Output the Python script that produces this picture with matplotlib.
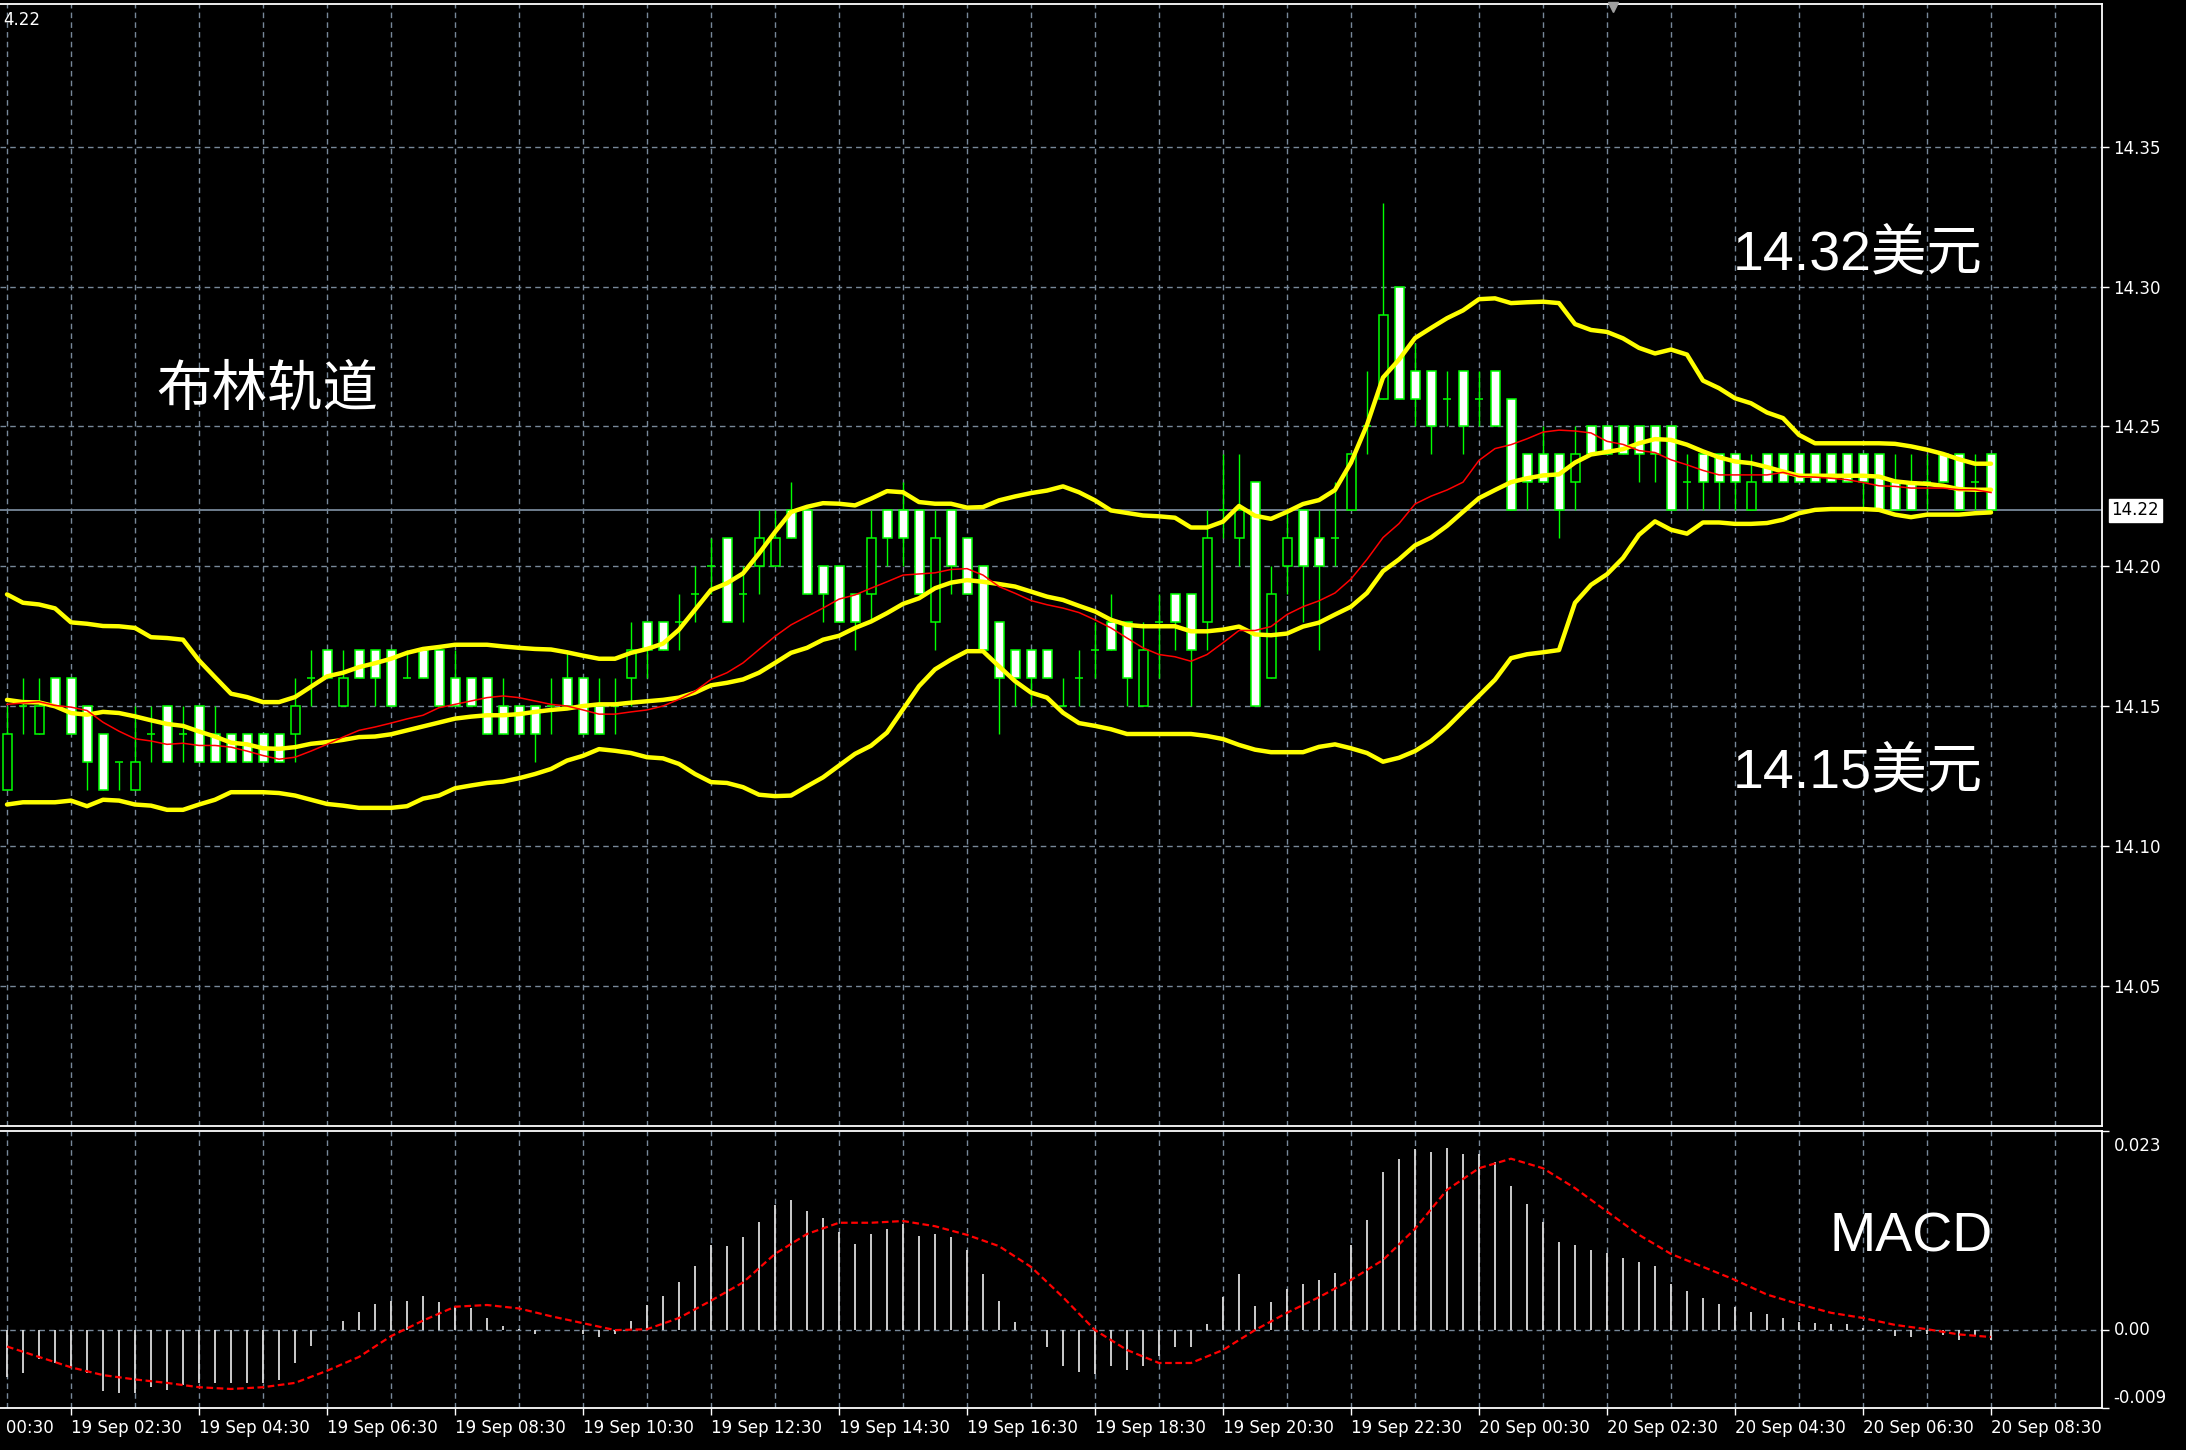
import numpy as np
import matplotlib
matplotlib.use("Agg")
import matplotlib.pyplot as plt
from matplotlib.transforms import blended_transform_factory

# ---------------- data ----------------
time_labels = ["19 Sep 00:30", "19 Sep 02:30", "19 Sep 04:30", "19 Sep 06:30", "19 Sep 08:30",
               "19 Sep 10:30", "19 Sep 12:30", "19 Sep 14:30", "19 Sep 16:30", "19 Sep 18:30",
               "19 Sep 20:30", "19 Sep 22:30", "20 Sep 00:30", "20 Sep 02:30", "20 Sep 04:30",
               "20 Sep 06:30", "20 Sep 08:30"]

opens = [14.12, 14.15, 14.14, 14.16, 14.16, 14.15, 14.14, 14.13, 14.12, 14.14,
         14.15, 14.14, 14.15, 14.14, 14.14, 14.14, 14.14, 14.14, 14.14, 14.16,
         14.17, 14.15, 14.17, 14.17, 14.17, 14.16, 14.17, 14.17, 14.16, 14.16,
         14.16, 14.15, 14.15, 14.15, 14.15, 14.16, 14.16, 14.15, 14.15, 14.16,
         14.18, 14.18, 14.18, 14.19, 14.20, 14.21, 14.19, 14.20, 14.20, 14.22,
         14.22, 14.20, 14.20, 14.19, 14.19, 14.22, 14.22, 14.22, 14.18, 14.22,
         14.21, 14.20, 14.18, 14.17, 14.17, 14.17, 14.15, 14.16, 14.17, 14.18,
         14.18, 14.15, 14.18, 14.19, 14.19, 14.18, 14.22, 14.21, 14.23, 14.16,
         14.20, 14.22, 14.21, 14.21, 14.22, 14.25, 14.26, 14.30, 14.27, 14.27,
         14.26, 14.27, 14.26, 14.27, 14.26, 14.24, 14.24, 14.24, 14.23, 14.25,
         14.25, 14.25, 14.25, 14.25, 14.25, 14.23, 14.24, 14.24, 14.24, 14.22,
         14.24, 14.24, 14.24, 14.24, 14.24, 14.24, 14.24, 14.24, 14.23, 14.23,
         14.23, 14.24, 14.24, 14.23, 14.24]
highs = [14.15, 14.16, 14.16, 14.16, 14.16, 14.15, 14.14, 14.13, 14.15, 14.15,
         14.15, 14.15, 14.15, 14.15, 14.14, 14.14, 14.14, 14.14, 14.16, 14.17,
         14.17, 14.17, 14.17, 14.17, 14.17, 14.17, 14.17, 14.17, 14.17, 14.16,
         14.16, 14.16, 14.15, 14.15, 14.16, 14.17, 14.16, 14.16, 14.16, 14.18,
         14.18, 14.18, 14.19, 14.20, 14.21, 14.21, 14.20, 14.22, 14.22, 14.23,
         14.22, 14.20, 14.20, 14.19, 14.22, 14.22, 14.23, 14.22, 14.22, 14.22,
         14.21, 14.20, 14.18, 14.17, 14.17, 14.17, 14.16, 14.17, 14.18, 14.19,
         14.18, 14.18, 14.19, 14.19, 14.19, 14.22, 14.24, 14.24, 14.23, 14.20,
         14.22, 14.22, 14.22, 14.23, 14.24, 14.27, 14.33, 14.30, 14.28, 14.27,
         14.27, 14.27, 14.27, 14.27, 14.26, 14.24, 14.25, 14.24, 14.25, 14.25,
         14.25, 14.25, 14.25, 14.25, 14.25, 14.24, 14.24, 14.24, 14.24, 14.24,
         14.24, 14.24, 14.24, 14.24, 14.24, 14.24, 14.24, 14.24, 14.24, 14.24,
         14.24, 14.24, 14.24, 14.24, 14.24]
lows = [14.12, 14.14, 14.14, 14.15, 14.14, 14.12, 14.12, 14.12, 14.12, 14.13,
        14.13, 14.13, 14.13, 14.13, 14.13, 14.13, 14.13, 14.13, 14.13, 14.15,
        14.16, 14.15, 14.16, 14.15, 14.15, 14.16, 14.16, 14.15, 14.15, 14.15,
        14.14, 14.14, 14.14, 14.13, 14.14, 14.15, 14.14, 14.14, 14.14, 14.15,
        14.16, 14.17, 14.17, 14.18, 14.19, 14.18, 14.18, 14.19, 14.20, 14.21,
        14.19, 14.18, 14.18, 14.17, 14.18, 14.20, 14.20, 14.19, 14.17, 14.19,
        14.19, 14.17, 14.14, 14.15, 14.15, 14.16, 14.15, 14.15, 14.16, 14.17,
        14.15, 14.15, 14.16, 14.17, 14.15, 14.17, 14.21, 14.20, 14.15, 14.16,
        14.19, 14.18, 14.17, 14.20, 14.22, 14.24, 14.26, 14.26, 14.25, 14.24,
        14.25, 14.24, 14.25, 14.25, 14.22, 14.22, 14.23, 14.21, 14.22, 14.24,
        14.24, 14.24, 14.23, 14.23, 14.22, 14.22, 14.22, 14.22, 14.22, 14.22,
        14.23, 14.23, 14.23, 14.23, 14.23, 14.23, 14.22, 14.22, 14.22, 14.22,
        14.22, 14.23, 14.22, 14.22, 14.22]
closes = [14.14, 14.15, 14.15, 14.15, 14.14, 14.13, 14.12, 14.13, 14.13, 14.14,
          14.13, 14.14, 14.13, 14.13, 14.13, 14.13, 14.13, 14.13, 14.15, 14.16,
          14.16, 14.16, 14.16, 14.16, 14.15, 14.16, 14.16, 14.15, 14.15, 14.15,
          14.14, 14.14, 14.14, 14.14, 14.15, 14.15, 14.14, 14.14, 14.15, 14.17,
          14.17, 14.17, 14.18, 14.19, 14.20, 14.18, 14.19, 14.21, 14.21, 14.21,
          14.19, 14.19, 14.18, 14.18, 14.21, 14.21, 14.21, 14.19, 14.21, 14.20,
          14.19, 14.17, 14.16, 14.16, 14.16, 14.16, 14.15, 14.16, 14.17, 14.17,
          14.16, 14.17, 14.18, 14.18, 14.17, 14.21, 14.22, 14.22, 14.15, 14.19,
          14.21, 14.20, 14.20, 14.21, 14.24, 14.25, 14.29, 14.26, 14.26, 14.25,
          14.26, 14.25, 14.26, 14.25, 14.22, 14.23, 14.23, 14.22, 14.24, 14.24,
          14.24, 14.24, 14.24, 14.24, 14.22, 14.23, 14.23, 14.23, 14.23, 14.23,
          14.23, 14.23, 14.23, 14.23, 14.23, 14.23, 14.23, 14.22, 14.22, 14.22,
          14.23, 14.23, 14.22, 14.23, 14.22]

bb_upper = [14.1900, 14.1870, 14.1864, 14.1850, 14.1800, 14.1795, 14.1787, 14.1786, 14.1780, 14.1747,
            14.1744, 14.1738, 14.1664, 14.1604, 14.1545, 14.1533, 14.1515, 14.1515, 14.1533, 14.1570,
            14.1607, 14.1620, 14.1640, 14.1654, 14.1670, 14.1691, 14.1705, 14.1712, 14.1720, 14.1720,
            14.1720, 14.1714, 14.1709, 14.1705, 14.1703, 14.1693, 14.1681, 14.1670, 14.1670, 14.1691,
            14.1705, 14.1724, 14.1774, 14.1845, 14.1916, 14.1940, 14.1975, 14.2046, 14.2123, 14.2194,
            14.2213, 14.2226, 14.2224, 14.2218, 14.2242, 14.2269, 14.2265, 14.2230, 14.2224, 14.2224,
            14.2210, 14.2212, 14.2236, 14.2250, 14.2262, 14.2271, 14.2286, 14.2265, 14.2236, 14.2200,
            14.2191, 14.2182, 14.2179, 14.2174, 14.2139, 14.2139, 14.2160, 14.2216, 14.2181, 14.2170,
            14.2195, 14.2223, 14.2237, 14.2273, 14.2371, 14.2506, 14.2675, 14.2739, 14.2816, 14.2852,
            14.2887, 14.2915, 14.2955, 14.2958, 14.2941, 14.2944, 14.2946, 14.2941, 14.2866, 14.2845,
            14.2838, 14.2815, 14.2781, 14.2761, 14.2775, 14.2757, 14.2664, 14.2637, 14.2601, 14.2583,
            14.2550, 14.2530, 14.2470, 14.2440, 14.2440, 14.2440, 14.2440, 14.2440, 14.2438, 14.2429,
            14.2417, 14.2402, 14.2383, 14.2367, 14.2367]
bb_middle = [14.1523, 14.1515, 14.1514, 14.1500, 14.1476, 14.1470, 14.1480, 14.1476, 14.1464, 14.1450,
             14.1437, 14.1430, 14.1410, 14.1392, 14.1370, 14.1364, 14.1350, 14.1348, 14.1354, 14.1366,
             14.1372, 14.1380, 14.1390, 14.1392, 14.1400, 14.1414, 14.1428, 14.1442, 14.1456, 14.1463,
             14.1468, 14.1468, 14.1472, 14.1480, 14.1487, 14.1492, 14.1501, 14.1507, 14.1507, 14.1513,
             14.1518, 14.1523, 14.1531, 14.1549, 14.1575, 14.1584, 14.1596, 14.1620, 14.1655, 14.1691,
             14.1709, 14.1738, 14.1752, 14.1780, 14.1803, 14.1833, 14.1866, 14.1886, 14.1922, 14.1942,
             14.1951, 14.1945, 14.1937, 14.1928, 14.1910, 14.1892, 14.1880, 14.1859, 14.1839, 14.1809,
             14.1791, 14.1786, 14.1786, 14.1786, 14.1768, 14.1768, 14.1774, 14.1785, 14.1757, 14.1754,
             14.1760, 14.1785, 14.1799, 14.1828, 14.1856, 14.1905, 14.1983, 14.2025, 14.2075, 14.2103,
             14.2145, 14.2195, 14.2244, 14.2273, 14.2301, 14.2315, 14.2325, 14.2329, 14.2371, 14.2400,
             14.2409, 14.2419, 14.2440, 14.2455, 14.2452, 14.2435, 14.2411, 14.2390, 14.2375, 14.2369,
             14.2355, 14.2339, 14.2324, 14.2324, 14.2324, 14.2324, 14.2324, 14.2321, 14.2304, 14.2298,
             14.2295, 14.2288, 14.2276, 14.2274, 14.2274]
bb_lower = [14.1149, 14.1157, 14.1157, 14.1157, 14.1163, 14.1143, 14.1166, 14.1163, 14.1149, 14.1145,
            14.1130, 14.1130, 14.1149, 14.1166, 14.1193, 14.1193, 14.1193, 14.1190, 14.1181, 14.1166,
            14.1151, 14.1145, 14.1137, 14.1137, 14.1137, 14.1143, 14.1170, 14.1181, 14.1207, 14.1217,
            14.1226, 14.1231, 14.1243, 14.1258, 14.1276, 14.1306, 14.1323, 14.1347, 14.1341, 14.1333,
            14.1318, 14.1314, 14.1294, 14.1258, 14.1229, 14.1226, 14.1211, 14.1184, 14.1179, 14.1181,
            14.1214, 14.1246, 14.1288, 14.1330, 14.1359, 14.1406, 14.1489, 14.1572, 14.1632, 14.1667,
            14.1697, 14.1697, 14.1643, 14.1590, 14.1549, 14.1531, 14.1477, 14.1440, 14.1430, 14.1418,
            14.1401, 14.1401, 14.1401, 14.1401, 14.1401, 14.1394, 14.1383, 14.1362, 14.1345, 14.1336,
            14.1336, 14.1336, 14.1355, 14.1364, 14.1350, 14.1333, 14.1302, 14.1316, 14.1340, 14.1376,
            14.1425, 14.1482, 14.1538, 14.1595, 14.1672, 14.1686, 14.1693, 14.1701, 14.1870, 14.1934,
            14.1972, 14.2030, 14.2113, 14.2161, 14.2131, 14.2117, 14.2157, 14.2157, 14.2152, 14.2152,
            14.2155, 14.2167, 14.2190, 14.2202, 14.2205, 14.2205, 14.2205, 14.2202, 14.2185, 14.2176,
            14.2185, 14.2185, 14.2185, 14.2190, 14.2193]
ma_red = [14.1507, 14.1512, 14.1516, 14.1503, 14.1497, 14.1485, 14.1443, 14.1411, 14.1384, 14.1376,
          14.1364, 14.1368, 14.1360, 14.1360, 14.1354, 14.1340, 14.1324, 14.1311, 14.1318, 14.1340,
          14.1364, 14.1390, 14.1414, 14.1426, 14.1440, 14.1455, 14.1468, 14.1495, 14.1507, 14.1519,
          14.1531, 14.1537, 14.1531, 14.1519, 14.1507, 14.1501, 14.1487, 14.1472, 14.1472, 14.1480,
          14.1487, 14.1501, 14.1525, 14.1554, 14.1596, 14.1620, 14.1655, 14.1703, 14.1750, 14.1791,
          14.1821, 14.1851, 14.1883, 14.1898, 14.1922, 14.1945, 14.1969, 14.1973, 14.1977, 14.1989,
          14.1992, 14.1969, 14.1928, 14.1904, 14.1878, 14.1863, 14.1851, 14.1835, 14.1809, 14.1780,
          14.1744, 14.1709, 14.1685, 14.1677, 14.1661, 14.1685, 14.1727, 14.1771, 14.1771, 14.1785,
          14.1828, 14.1856, 14.1877, 14.1905, 14.1955, 14.2025, 14.2103, 14.2153, 14.2223, 14.2251,
          14.2273, 14.2301, 14.2379, 14.2421, 14.2435, 14.2456, 14.2480, 14.2487, 14.2484, 14.2477,
          14.2447, 14.2436, 14.2414, 14.2407, 14.2381, 14.2363, 14.2343, 14.2327, 14.2327, 14.2327,
          14.2327, 14.2336, 14.2321, 14.2319, 14.2315, 14.2310, 14.2300, 14.2288, 14.2286, 14.2280,
          14.2280, 14.2280, 14.2274, 14.2274, 14.2264]

macd_hist = [-0.0054, -0.0050, -0.0033, -0.0038, -0.0043, -0.0050, -0.0070, -0.0073, -0.0073, -0.0066,
             -0.0069, -0.0063, -0.0061, -0.0061, -0.0061, -0.0061, -0.0061, -0.0058, -0.0038, -0.0018,
             0.0000, 0.0011, 0.0021, 0.0030, 0.0034, 0.0034, 0.0039, 0.0033, 0.0027, 0.0026,
             0.0014, 0.0005, 0.0001, -0.0004, 0.0000, 0.0000, -0.0004, -0.0008, -0.0004, 0.0011,
             0.0029, 0.0039, 0.0056, 0.0074, 0.0098, 0.0097, 0.0107, 0.0125, 0.0144, 0.0150,
             0.0138, 0.0130, 0.0113, 0.0099, 0.0111, 0.0117, 0.0123, 0.0109, 0.0111, 0.0107,
             0.0093, 0.0065, 0.0034, 0.0009, 0.0000, -0.0020, -0.0042, -0.0048, -0.0051, -0.0042,
             -0.0046, -0.0042, -0.0030, -0.0020, -0.0020, 0.0007, 0.0038, 0.0065, 0.0028, 0.0033,
             0.0048, 0.0053, 0.0058, 0.0066, 0.0098, 0.0127, 0.0183, 0.0198, 0.0209, 0.0206,
             0.0210, 0.0204, 0.0203, 0.0194, 0.0166, 0.0146, 0.0125, 0.0102, 0.0098, 0.0093,
             0.0089, 0.0083, 0.0079, 0.0074, 0.0053, 0.0045, 0.0037, 0.0030, 0.0027, 0.0021,
             0.0019, 0.0014, 0.0009, 0.0008, 0.0007, 0.0007, 0.0002, 0.0001, -0.0007, -0.0008,
             -0.0004, -0.0006, -0.0011, -0.0007, -0.0011]
signal_bars = list(range(0, 125, 2))
macd_signal = [-0.0019, -0.0031, -0.0043, -0.0052, -0.0057, -0.0061, -0.0066, -0.0068, -0.0066, -0.0061,
               -0.0047, -0.0031, -0.0007, 0.0011, 0.0027, 0.0029, 0.0025, 0.0016, 0.0008, 0.0000,
               0.0001, 0.0014, 0.0034, 0.0055, 0.0088, 0.0111, 0.0124, 0.0124, 0.0126, 0.0120,
               0.0110, 0.0097, 0.0073, 0.0038, 0.0000, -0.0023, -0.0038, -0.0038, -0.0023, 0.0000,
               0.0020, 0.0038, 0.0058, 0.0081, 0.0117, 0.0162, 0.0187, 0.0198, 0.0187, 0.0164,
               0.0137, 0.0110, 0.0088, 0.0073, 0.0058, 0.0041, 0.0030, 0.0020, 0.0014, 0.0006,
               0.0001, -0.0005, -0.0008]

price_ticks = [14.05, 14.10, 14.15, 14.20, 14.25, 14.30, 14.35]
macd_ticks = [-0.009, 0.0, 0.023]
macd_tick_labels = ["-0.009", "0.00", "0.023"]
current_price = 14.22

# ---------------- layout ----------------
W, H = 2186, 1450
fig = plt.figure(figsize=(W / 100, H / 100), dpi=100, facecolor="black")


def px_rect(left, top, right, bottom):
    return [left / W, 1 - bottom / H, (right - left) / W, (bottom - top) / H]


ax = fig.add_axes(px_rect(0, 4, 2102, 1126), facecolor="black")
axm = fig.add_axes(px_rect(0, 1131, 2102, 1408), facecolor="black")

GRID = "#778899"
LIME = "#00ff00"
grid_ls = (0, (4, 3))
xlim = (-0.4375, 130.9375)
n = len(opens)
x = np.arange(n)

for a in (ax, axm):
    a.set_xlim(*xlim)
    for s in ("top", "right", "bottom"):
        a.spines[s].set_color("white")
        a.spines[s].set_linewidth(1.3)
    a.spines["left"].set_visible(False)
    for gx in range(0, 131, 4):
        a.axvline(gx, color=GRID, lw=1.0, ls=grid_ls, zorder=0.5)
    a.yaxis.tick_right()
    a.tick_params(axis="y", colors="white", direction="out", length=5, width=1,
                  labelsize=12, pad=3)

# ---------------- main price panel ----------------
ax.set_ylim(14.0, 14.401)
for p in price_ticks:
    ax.axhline(p, color=GRID, lw=1.0, ls=grid_ls, zorder=0.5)
ax.axhline(current_price, color=GRID, lw=1.3, zorder=1.5)

o = np.array(opens); h = np.array(highs); l = np.array(lows); c = np.array(closes)
ax.vlines(x, l, h, color=LIME, lw=1.0, zorder=2)
body = np.abs(c - o) > 1e-9
bottoms = np.minimum(o, c)
heights = np.abs(c - o)
faces = ["white" if cc < oo else "black" for oo, cc in zip(o, c)]
ax.bar(x[body], heights[body], bottom=bottoms[body], width=0.5625,
       color=[f for f, b in zip(faces, body) if b], edgecolor=LIME, linewidth=1.1, zorder=3)
ax.hlines(o[~body], x[~body] - 0.28, x[~body] + 0.28, color=LIME, lw=1.1, zorder=3)

for band in (bb_upper, bb_middle, bb_lower):
    ax.plot(x, band, color="#ffff00", lw=3.2, zorder=4, solid_joinstyle="round",
            solid_capstyle="round")
ax.plot(x, ma_red, color="#ff0000", lw=1.1, zorder=5)

ax.set_xticks([])
ax.set_yticks(price_ticks)
ax.set_yticklabels([f"{p:.2f}" for p in price_ticks])

tr = blended_transform_factory(ax.transAxes, ax.transData)
ax.text(1.0045, current_price, f"{current_price:.2f}", transform=tr, color="black",
        fontsize=12, va="center", ha="left",
        bbox=dict(boxstyle="square,pad=0.15", fc="white", ec="white"))

ax.plot([1613 / 2102], [0.997], marker="v", color="#a0a0a0", ms=7,
        transform=ax.transAxes, clip_on=False, zorder=6)

# ---------------- MACD panel ----------------
axm.set_ylim(-0.009, 0.023)
axm.axhline(0, color=GRID, lw=1.0, ls=grid_ls, zorder=0.5)
axm.vlines(x, 0, macd_hist, color="#dcdcdc", lw=1.3, zorder=2)
axm.plot(signal_bars, macd_signal, color="#ff0000", lw=1.6, ls=(0, (3, 1.6)), zorder=3)
axm.set_yticks(macd_ticks)
axm.set_yticklabels([""] * len(macd_ticks))
trm = blended_transform_factory(axm.transAxes, axm.transData)
macd_label_offsets = [0.0011, 0.0, -0.0017]
for val, txt, off in zip(macd_ticks, macd_tick_labels, macd_label_offsets):
    axm.text(1.0055, val + off, txt, transform=trm, color="white", fontsize=12,
             va="center", ha="left")

label_pos = [-4 + 8 * k for k in range(len(time_labels))]
axm.set_xticks(label_pos[1:])
axm.set_xticklabels(time_labels[1:])
axm.tick_params(axis="x", colors="white", direction="out", length=5, width=1,
                labelsize=12, pad=3)
for lb in axm.get_xticklabels():
    lb.set_ha("left")
axm.annotate(time_labels[0], xy=(label_pos[0], 0), xycoords=("data", "axes fraction"),
             xytext=(0, -8), textcoords="offset points", va="top", ha="left",
             color="white", fontsize=12, annotation_clip=False)

# ---------------- overlay texts ----------------
def fx(px):
    return px / W


def fy(py):
    return 1 - py / H


fam = ["Liberation Sans", "Noto Sans CJK SC"]
fig.text(fx(3), fy(20), "4.22", color="white", fontsize=12, va="center", ha="left")
fig.text(fx(156), fy(390), "布林轨道", color="white", fontsize=40, va="center", ha="left",
         family=["Noto Sans CJK SC"])
fig.text(fx(1733), fy(255), "14.32美元", color="white", fontsize=40, va="center", ha="left",
         family=fam)
fig.text(fx(1733), fy(773), "14.15美元", color="white", fontsize=40, va="center", ha="left",
         family=fam)
fig.text(fx(1830), fy(1237), "MACD", color="white", fontsize=40, va="center", ha="left",
         family=fam)

fig.savefig("out.png", dpi=100, facecolor="black")
